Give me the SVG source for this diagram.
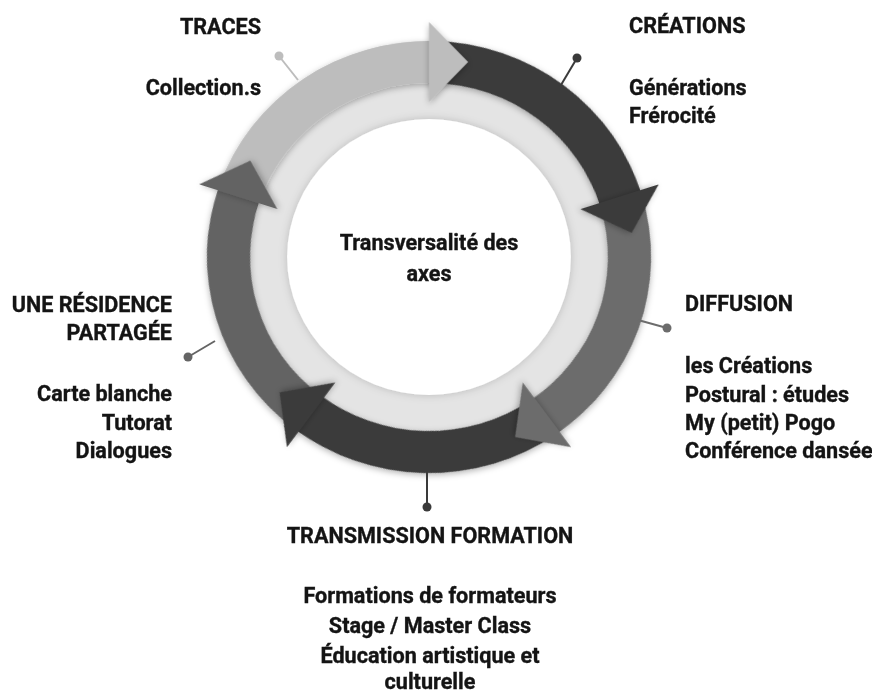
<svg xmlns="http://www.w3.org/2000/svg" width="872" height="693" viewBox="0 0 872 693">
  <style>
    text { font-family: Roboto, "Liberation Sans", sans-serif; font-weight: 700; font-size: 21.6px; fill: #141414; stroke: #141414; stroke-width: 0.35px; }
    .l { text-anchor: start; }
    .r { text-anchor: end; }
    .c { text-anchor: middle; }
    .pinline { stroke-width: 2; fill: none; }
  </style>
  <defs>
    <filter id="sh" x="-30%" y="-30%" width="160%" height="160%">
      <feDropShadow dx="0" dy="2" stdDeviation="3" flood-color="#000" flood-opacity="0.3"/>
    </filter>
    <filter id="sh2" x="-30%" y="-30%" width="160%" height="160%">
      <feDropShadow dx="0" dy="0" stdDeviation="4" flood-color="#000" flood-opacity="0.18"/>
    </filter>
    <path id="band" d="M -204.23 -70.32 A 216 216 0 0 1 7.54 -215.87 L 6.07 -173.89 A 174 174 0 0 0 -164.52 -56.65 Z"/>
    <polygon id="head" points="0,-155 0,-235 38,-195"/>
  </defs>
  <rect width="872" height="693" fill="#ffffff"/>

  <g id="connectors" transform="translate(429,257) scale(1.028,1)">
    <circle r="216" fill="#e4e4e4"/>
    <circle r="138" fill="#ffffff" filter="url(#sh2)"/>
    <g filter="url(#sh)">
      <use href="#band" fill="#bdbdbd"/>
      <use href="#band" fill="#3a3a3a" transform="rotate(72)"/>
      <use href="#band" fill="#6c6c6c" transform="rotate(144)"/>
      <use href="#band" fill="#3a3a3a" transform="rotate(216)"/>
      <use href="#band" fill="#646464" transform="rotate(288)"/>
    </g>
    <use href="#head" fill="#bdbdbd" filter="url(#sh)"/>
    <use href="#head" fill="#3a3a3a" filter="url(#sh)" transform="rotate(72)"/>
    <use href="#head" fill="#6c6c6c" filter="url(#sh)" transform="rotate(144)"/>
    <use href="#head" fill="#3a3a3a" filter="url(#sh)" transform="rotate(216)"/>
    <use href="#head" fill="#646464" filter="url(#sh)" transform="rotate(288)"/>
  </g>

  <g id="center">
    <text class="c" x="429" y="250">Transversalité des</text>
    <text class="c" x="429" y="281">axes</text>
  </g>

  <g id="traces">
    <line class="pinline" x1="298" y1="80" x2="279" y2="56" stroke="#bdbdbd"/>
    <circle cx="279" cy="56" r="4.5" fill="#bdbdbd"/>
    <text class="r" x="261" y="34">TRACES</text>
    <text class="r" x="261" y="95">Collection.s</text>
  </g>

  <g id="creations">
    <line class="pinline" x1="561" y1="85" x2="577" y2="58" stroke="#3a3a3a"/>
    <circle cx="577" cy="58" r="4.5" fill="#3a3a3a"/>
    <text class="l" x="629" y="33">CRÉATIONS</text>
    <text class="l" x="629" y="95">Générations</text>
    <text class="l" x="629" y="123">Frérocité</text>
  </g>

  <g id="diffusion">
    <line class="pinline" x1="638" y1="320" x2="667" y2="328" stroke="#6c6c6c"/>
    <circle cx="667" cy="328" r="4.5" fill="#6c6c6c"/>
    <text class="l" x="685" y="311">DIFFUSION</text>
    <text class="l" x="685" y="373">les Créations</text>
    <text class="l" x="685" y="402">Postural : études</text>
    <text class="l" x="685" y="430">My (petit) Pogo</text>
    <text class="l" x="685" y="458">Conférence dansée</text>
  </g>

  <g id="transmission">
    <line class="pinline" x1="427" y1="471" x2="427" y2="507" stroke="#3a3a3a"/>
    <circle cx="427" cy="507" r="4.5" fill="#3a3a3a"/>
    <text class="c" x="430" y="543">TRANSMISSION FORMATION</text>
    <text class="c" x="430" y="603">Formations de formateurs</text>
    <text class="c" x="430" y="633">Stage / Master Class</text>
    <text class="c" x="430" y="663">Éducation artistique et</text>
    <text class="c" x="430" y="689">culturelle</text>
  </g>

  <g id="residence">
    <line class="pinline" x1="215" y1="341" x2="188" y2="357" stroke="#646464"/>
    <circle cx="188" cy="357" r="4.5" fill="#646464"/>
    <text class="r" x="172" y="312">UNE RÉSIDENCE</text>
    <text class="r" x="172" y="340">PARTAGÉE</text>
    <text class="r" x="172" y="401">Carte blanche</text>
    <text class="r" x="172" y="430">Tutorat</text>
    <text class="r" x="172" y="458">Dialogues</text>
  </g>
</svg>
